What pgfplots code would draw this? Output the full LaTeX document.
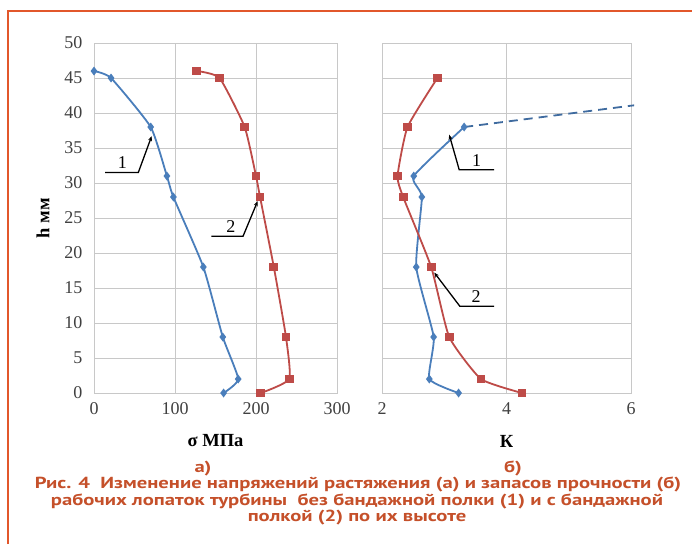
\documentclass[border=0pt]{standalone}
\usepackage{fontspec}
\setmainfont{Liberation Serif}
\newfontfamily\capfont{PT Sans}[FakeStretch=1.29]
\usepackage{pgfplots}
\pgfplotsset{compat=1.18}
\usetikzlibrary{arrows.meta}
\definecolor{frameorange}{HTML}{E2572B}
\definecolor{captext}{HTML}{C5502A}
\definecolor{serblue}{HTML}{4A7EBB}
\definecolor{serred}{HTML}{BE4B48}
\definecolor{gridgray}{HTML}{C8C8C8}

\tikzset{
  callout/.style={black, line width=1.3pt, -{Stealth[length=5pt,width=4pt]}},
  calllabel/.style={font=\fontsize{18}{18}\selectfont, inner sep=0pt},
}
\pgfplotsset{
  panel/.style={
    scale only axis,
    height=350pt,
    ymin=0, ymax=50,
    ytick={0,5,...,50},
    grid=major,
    major grid style={gridgray, line width=0.9pt},
    axis line style={gridgray, line width=0.9pt},
    major tick length=0pt,
    /pgf/number format/assume math mode=true,
    tick label style={font=\fontsize{18}{18}\selectfont, text=black!75},
    xticklabel style={yshift=-6pt},
    yticklabel style={xshift=-8pt},
    xlabel style={font=\fontsize{18.5}{18.5}\selectfont\bfseries, at={(axis description cs:0.5,-0.137)}, anchor=center},
    ylabel style={font=\fontsize{18.5}{18.5}\selectfont\bfseries, at={(axis description cs:-0.21,0.5)}, anchor=center},
    clip=false,
  },
  s1/.style={serblue, line width=1.8pt, smooth, tension=0.3, mark=diamond*, mark size=3pt, mark options={solid, fill=serblue}},
  s2/.style={serred, line width=1.8pt, smooth, tension=0.3, mark=square*, mark size=3.5pt, mark options={solid, fill=serred}},
}

\begin{document}
\begin{tikzpicture}
\path[use as bounding box] (0pt,0pt) rectangle (692pt,-544pt);
\fill[white] (0pt,0pt) rectangle (692pt,-544pt);
\draw[frameorange, line width=2pt] (8pt,-544pt) -- (8pt,-11pt) -- (692pt,-11pt);

% panel a): tensile stress
\begin{axis}[panel,
  at={(94pt,-393pt)}, anchor=south west,
  width=243pt,
  xmin=0, xmax=300, xtick={0,100,200,300},
  xlabel={σ МПа}, ylabel={h мм},
]
\addplot[s1] coordinates {
  (0,46) (21,45) (70,38) (90,31) (98,28) (135,18) (159,8) (178,2) (160,0)
};
\addplot[s2] coordinates {
  (127,46) (155,45) (186,38) (200,31) (205,28) (222,18) (237,8) (241,2) (206,0)
};
\draw[callout] (axis cs:13.6,31.5) -- (axis cs:54.7,31.5) -- (axis cs:71.2,36.7);
\node[calllabel, anchor=south] at (axis cs:35,32.0) {1};
\draw[callout] (axis cs:145,22.4) -- (axis cs:184,22.4) -- (axis cs:202,27.4);
\node[calllabel, anchor=south] at (axis cs:169,22.9) {2};
\end{axis}

% panel b): safety factor
\begin{axis}[panel,
  at={(382pt,-393pt)}, anchor=south west,
  width=249pt,
  xmin=2, xmax=6, xtick={2,4,6},
  yticklabels={},
  xlabel={К},
]
\addplot[s1] coordinates {
  (3.32,38) (2.51,31) (2.64,28) (2.55,18) (2.83,8) (2.76,2) (3.23,0)
};
\addplot[serblue!85!black, line width=1.8pt, dash pattern=on 9pt off 6pt] coordinates {
  (3.32,38) (6.05,41.1)
};
\addplot[s2] coordinates {
  (2.89,45) (2.41,38) (2.25,31) (2.34,28) (2.79,18) (3.08,8) (3.59,2) (4.25,0)
};
\draw[callout] (axis cs:3.80,31.9) -- (axis cs:3.24,31.9) -- (axis cs:3.08,36.9);
\node[calllabel, anchor=south] at (axis cs:3.52,32.4) {1};
\draw[callout] (axis cs:3.80,12.4) -- (axis cs:3.25,12.4) -- (axis cs:2.84,17.2);
\node[calllabel, anchor=south] at (axis cs:3.51,12.9) {2};
\end{axis}

% caption
\begin{scope}[every node/.style={text=captext, inner sep=0pt, anchor=base,
    text height=10pt, text depth=2pt,
    font=\fontsize{16}{16}\selectfont\capfont\bfseries}]
\node at (203pt,-472pt) {а)};
\node at (513pt,-472pt) {б)};
\node at (358pt,-488.6pt) {Рис. 4\ \ Изменение напряжений растяжения (а) и запасов прочности (б)};
\node at (357pt,-505.1pt) {рабочих лопаток турбины\ \ без бандажной полки (1) и с бандажной};
\node at (357pt,-521.6pt) {полкой (2) по их высоте};
\end{scope}
\end{tikzpicture}
\end{document}
